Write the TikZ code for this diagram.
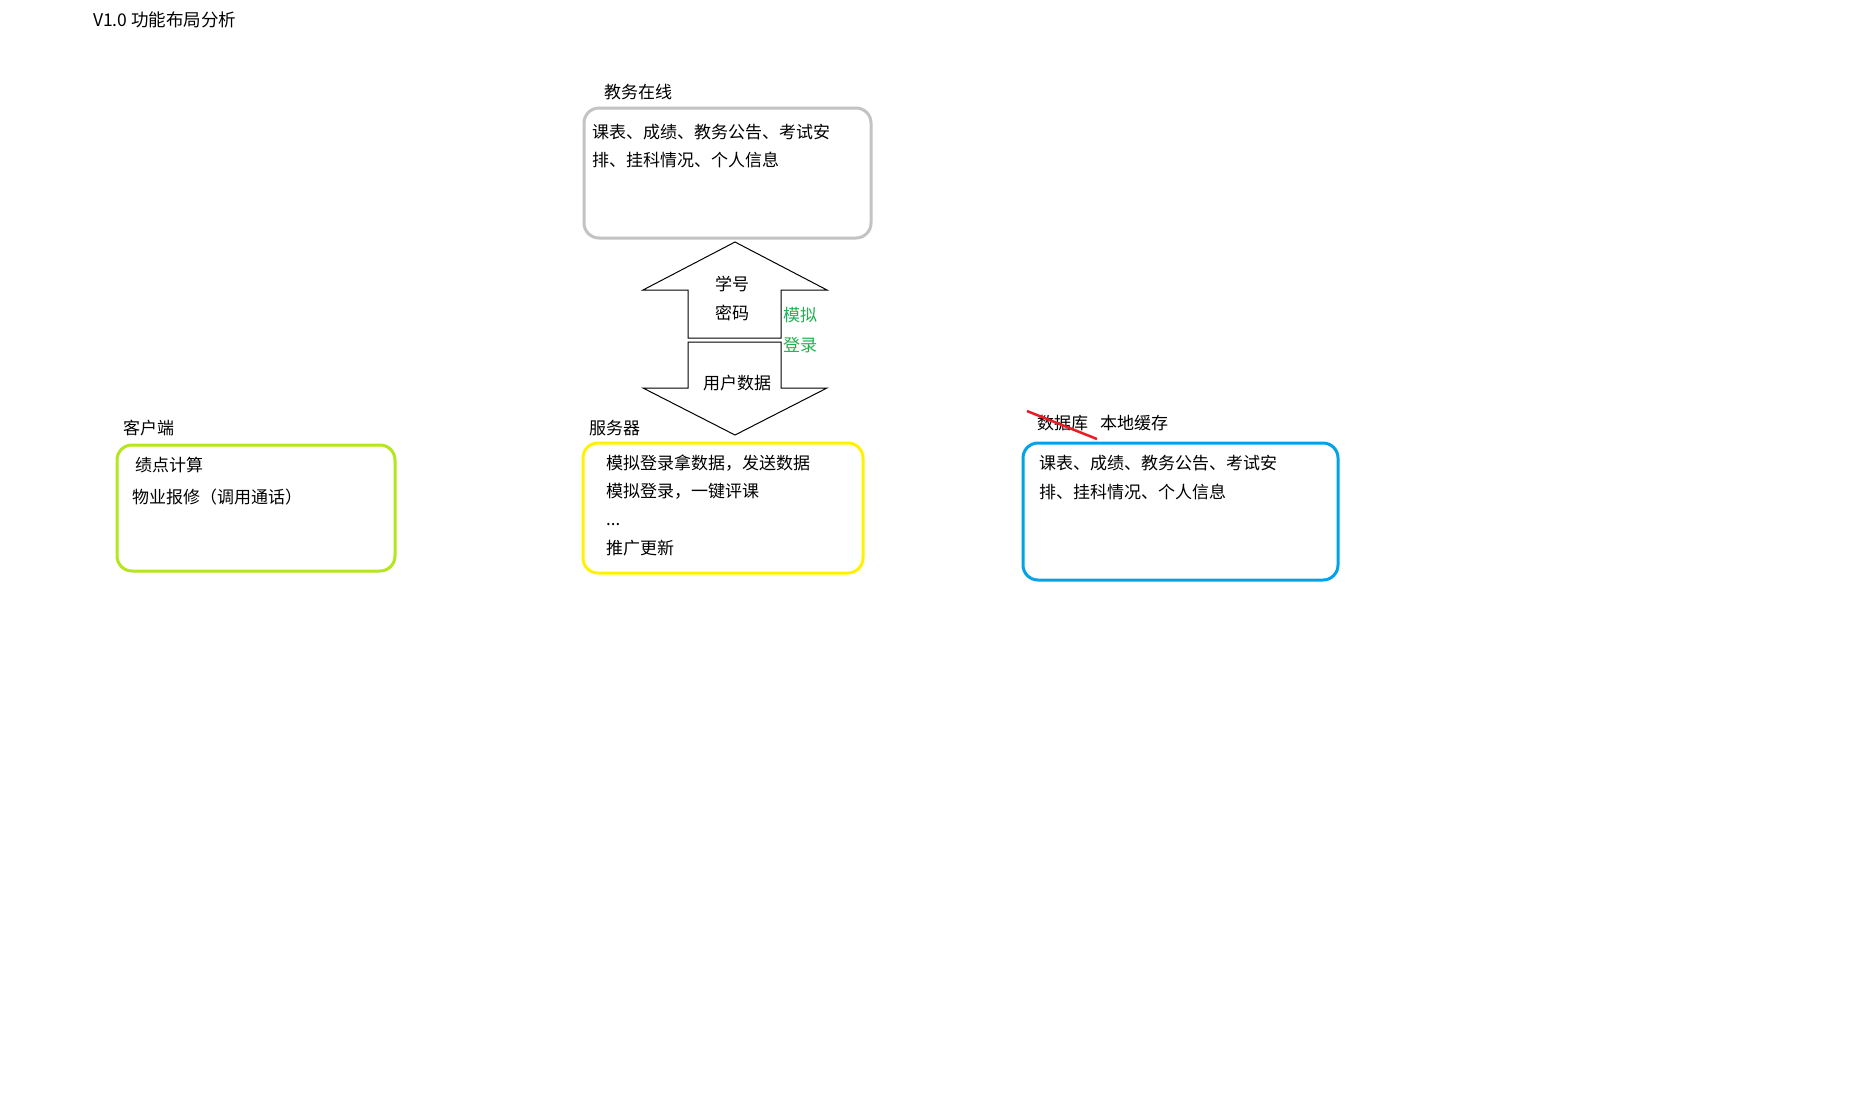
\documentclass[tikz,border=0pt]{standalone}
\usepackage{fontspec}
\setmainfont{Noto Sans CJK SC}
\definecolor{boxgray}{HTML}{C3C3C3}
\definecolor{boxlime}{HTML}{B5E61D}
\definecolor{boxyellow}{HTML}{FFF200}
\definecolor{boxblue}{HTML}{00A2E8}
\definecolor{txtgreen}{HTML}{22B14C}
\definecolor{strikered}{HTML}{ED1C24}
\begin{document}
\begin{tikzpicture}[x=1pt,y=-1pt,
  txt/.style={font=\fontsize{17}{20}\selectfont, inner sep=0pt, anchor=west, text=black},
  rbox/.style={rounded corners=15pt, line width=3pt},
  arrowshape/.style={draw=black, line width=1pt, line join=miter}]
\useasboundingbox (0,0) rectangle (1872,1096);
\fill[white] (0,0) rectangle (1872,1096);

% title
\node[txt, font=\fontsize{17.5}{20}\selectfont] (title) at (93,20) {V1.0 功能布局分析};

% 教务在线
\node[txt] (jwlabel) at (604,92) {教务在线};
\draw[rbox, draw=boxgray] (584,108) rectangle (871,238);
\node[txt] (jw1) at (592,132) {课表、成绩、教务公告、考试安};
\node[txt] (jw2) at (592,160) {排、挂科情况、个人信息};

% arrows
\draw[arrowshape] (688,338) -- (688,290) -- (643,290) -- (735,242) -- (827,290) -- (781,290) -- (781,338) -- cycle;
\draw[arrowshape] (688,342) -- (781,342) -- (781,388) -- (827,388) -- (735,435) -- (643,388) -- (688,388) -- cycle;
\node[txt, anchor=center] (xh) at (732,284) {学号};
\node[txt, anchor=center] (mm) at (732,313) {密码};
\node[txt, anchor=center] (yhsj) at (737,383) {用户数据};
\node[txt, text=txtgreen] (mn) at (783,315) {模拟};
\node[txt, text=txtgreen] (dl) at (783,345) {登录};

% 客户端
\node[txt] (khlabel) at (123,428) {客户端};
\draw[rbox, draw=boxlime] (117,445) rectangle (395,571);
\node[txt] (kh1) at (135,465) {绩点计算};
\node[txt] (kh2) at (132,497) {物业报修（调用通话）};

% 服务器
\node[txt] (fwlabel) at (589,428) {服务器};
\draw[rbox, draw=boxyellow] (583,443) rectangle (863,573);
\node[txt] (fw1) at (606,463) {模拟登录拿数据，发送数据};
\node[txt] (fw2) at (606,491) {模拟登录，一键评课};
\node[txt, anchor=base west] (fw3) at (606,525) {...};
\node[txt] (fw4) at (606,548) {推广更新};

% 本地缓存
\node[txt] (sjk) at (1037,423) {数据库};
\node[txt] (bdhc) at (1100,423) {本地缓存};
\draw[strikered, line width=2.5pt] (1027,411) -- (1097,439);
\draw[rbox, draw=boxblue] (1023,443) rectangle (1338,580);
\node[txt] (bd1) at (1039,463) {课表、成绩、教务公告、考试安};
\node[txt] (bd2) at (1039,492) {排、挂科情况、个人信息};
\end{tikzpicture}
\end{document}
